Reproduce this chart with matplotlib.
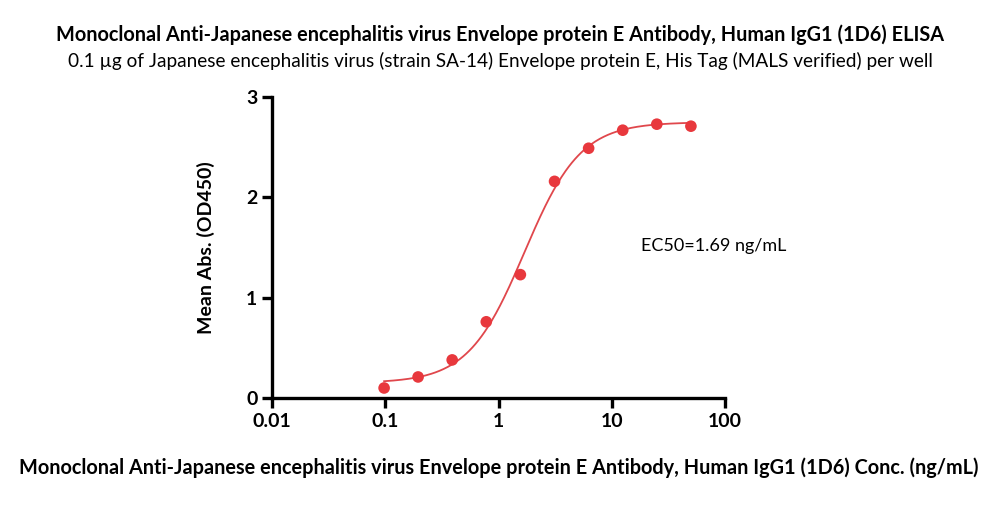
import matplotlib
matplotlib.use('Agg')
import matplotlib.pyplot as plt
import numpy as np

# ------------------------------------------------------------------ DATA
conc = [0.0977, 0.195, 0.39, 0.78, 1.56, 3.125, 6.25, 12.5, 25, 50]
od450 = [0.10, 0.21, 0.38, 0.76, 1.23, 2.16, 2.49, 2.67, 2.73, 2.71]

# 4PL fit parameters (bottom, top, EC50, hill)
fit_bottom = 0.15
fit_top = 2.75
fit_ec50 = 1.69
fit_hill = 1.75

xticks = [0.01, 0.1, 1, 10, 100]
xtick_labels = ['0.01', '0.1', '1', '10', '100']
yticks = [0, 1, 2, 3]

title = 'Monoclonal Anti-Japanese encephalitis virus Envelope protein E Antibody, Human IgG1 (1D6) ELISA'
subtitle = '0.1 \u00b5g of Japanese encephalitis virus (strain SA-14) Envelope protein E, His Tag (MALS verified) per well'
xlabel = 'Monoclonal Anti-Japanese encephalitis virus Envelope protein E Antibody, Human IgG1 (1D6) Conc. (ng/mL)'
ylabel = 'Mean Abs. (OD450)'
ec50_text = 'EC50=1.69 ng/mL'

# ------------------------------------------------------------------ PLOT
plt.rcParams['font.family'] = ['Lato', 'DejaVu Sans']
red = '#e8383d'

fig = plt.figure(figsize=(10, 5.22), dpi=100)
ax = fig.add_axes([0.272, 0.2375, 0.453, 0.5765])

xs = np.logspace(np.log10(conc[0]), np.log10(conc[-1]), 300)
ys = fit_bottom + (fit_top - fit_bottom) / (1 + (fit_ec50 / xs) ** fit_hill)
ax.plot(xs, ys, color='#e0474c', lw=1.3, zorder=2)
ax.scatter(conc, od450, s=70, color=red, edgecolors='none', zorder=3, clip_on=False)

ax.set_xscale('log')
ax.set_xlim(0.01, 100)
ax.set_ylim(0, 3)
ax.set_xticks(xticks)
ax.set_xticklabels(xtick_labels)
ax.minorticks_off()
ax.set_yticks(yticks)

for s in ['top', 'right']:
	ax.spines[s].set_visible(False)
for s in ['left', 'bottom']:
	ax.spines[s].set_linewidth(2.4)
ax.tick_params(axis='both', which='major', width=2.4, length=7, labelsize=14, direction='out')
for lb in ax.get_xticklabels() + ax.get_yticklabels():
	lb.set_fontweight('bold')

ax.set_xlabel(xlabel, fontsize=14.3, fontweight='bold', labelpad=20)
ax.set_ylabel(ylabel, fontsize=14, fontweight='bold', labelpad=22)

ax.text(0.815, 0.505, ec50_text, transform=ax.transAxes, fontsize=13, ha='left', va='center')

fig.text(0.5, 0.933, title, ha='center', va='center', fontsize=14.3, fontweight='bold')
fig.text(0.5, 0.884, subtitle, ha='center', va='center', fontsize=13.7)

fig.savefig('out.png', dpi=100)
